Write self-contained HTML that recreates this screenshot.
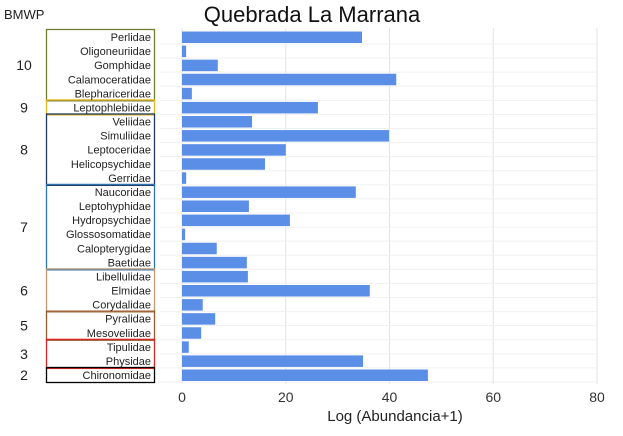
<!DOCTYPE html>
<html><head><meta charset="utf-8"><style>
body{margin:0;background:#fff;width:623px;height:431px;overflow:hidden;font-family:"Liberation Sans",sans-serif}
</style></head><body>
<svg width="623" height="431" xmlns="http://www.w3.org/2000/svg">
<text x="4" y="19" font-size="13" fill="#222">BMWP</text>
<text x="312" y="22" font-size="22" text-anchor="middle" fill="#111">Quebrada La Marrana</text>
<g id="grid"></g><g id="groups"></g><g id="bars"></g><g id="labels"></g><g id="ticks"></g>
<text x="395" y="421" font-size="15" text-anchor="middle" fill="#222">Log (Abundancia+1)</text>
</svg>
<script>
const categories=["Perlidae","Oligoneuriidae","Gomphidae","Calamoceratidae","Blephariceridae","Leptophlebiidae","Veliidae","Simuliidae","Leptoceridae","Helicopsychidae","Gerridae","Naucoridae","Leptohyphidae","Hydropsychidae","Glossosomatidae","Calopterygidae","Baetidae","Libellulidae","Elmidae","Corydalidae","Pyralidae","Mesoveliidae","Tipulidae","Physidae","Chironomidae"];
const values=[34.7,0.8,6.9,41.3,1.9,26.2,13.5,39.9,20,16,0.8,33.5,12.9,20.8,0.6,6.7,12.5,12.7,36.2,4,6.4,3.7,1.3,34.9,47.4];
const tickLabels=[0,20,40,60,80];
const groupScores=["10","9","8","7","6","5","3","2"];
const groupFirst=[0,5,6,11,17,20,22,24];
const groupLast=[4,5,10,16,19,21,23,24];
const groupColors=["#6f7d30","#e8b820","#1f3864","#2e75b6","#c49a74","#9c5a2c","#d62728","#000"];
const NS="http://www.w3.org/2000/svg";
const x=v=>182+v*(597-182)/80;
const y=i=>37+i*(375-37)/24;
function mk(t,a,p){const e=document.createElementNS(NS,t);for(const k in a)e.setAttribute(k,a[k]);document.getElementById(p).appendChild(e);return e;}
tickLabels.forEach(t=>{
 const l=mk("line",{x1:x(t),x2:x(t),y1:28,y2:384,stroke:"#e3e3e3"},"grid");
 
 
 const tx=mk("text",{x:x(t),y:402,"font-size":14,"text-anchor":"middle",fill:"#333"},"ticks");tx.textContent=t;
 
 
});
categories.forEach((c,i)=>{
 const hl=mk("line",{x1:160,x2:597,y1:y(i)+7,y2:y(i)+7,stroke:"#f0f0f0"},"grid");
 
 
 const b=mk("rect",{x:x(0),y:y(i)-5.5,width:x(values[i])-x(0),height:11.5,fill:"#5b8ee6"},"bars");
 
 
 const t=mk("text",{x:151,y:y(i)+4,"font-size":11,"text-anchor":"end",fill:"#222"},"labels");t.textContent=c;
 
 
});
groupScores.forEach((s,g)=>{
 const top=y(groupFirst[g])-8.5,bot=y(groupLast[g])+8.5;
 const r=mk("rect",{x:46.5,y:top+1,width:108,height:bot-top-2,fill:"none",stroke:groupColors[g],"stroke-width":1.3},"groups");
 
 
 const t=mk("text",{x:24,y:(top+bot)/2+5,"font-size":14,"text-anchor":"middle",fill:"#222"},"groups");t.textContent=s;
 
 
});
</script>
</body></html>
